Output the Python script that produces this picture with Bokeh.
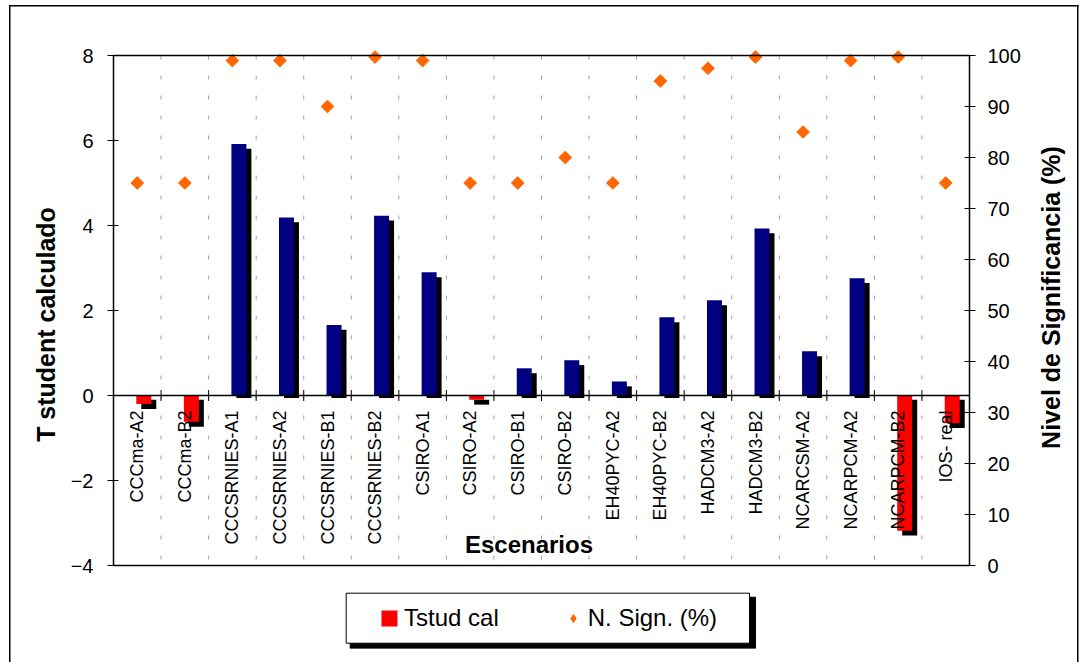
import math
from bokeh.plotting import figure
from bokeh.layouts import row
from bokeh.models import (Range1d, FactorRange, LinearAxis, SingleIntervalTicker, Span, Label,
                          BoxAnnotation, Legend, LegendItem, ColumnDataSource)
from bokeh.transform import dodge
from bokeh.embed import file_html
from bokeh.resources import INLINE
from bokeh.core.properties import value

# ---------------- data ----------------
categories = ["CCCma-A2", "CCCma-B2", "CCCSRNIES-A1", "CCCSRNIES-A2", "CCCSRNIES-B1",
              "CCCSRNIES-B2", "CSIRO-A1", "CSIRO-A2", "CSIRO-B1", "CSIRO-B2",
              "EH40PYC-A2", "EH40PYC-B2", "HADCM3-A2", "HADCM3-B2", "NCARCSM-A2",
              "NCARPCM-A2", "NCARPCM-B2", "IOS- real"]
tstud_cal = [-0.20, -0.62, 5.92, 4.19, 1.66, 4.23, 2.90, -0.10, 0.64, 0.83,
             0.33, 1.84, 2.24, 3.93, 1.04, 2.76, -3.18, -0.65]
n_sign = [75, 75, 99, 99, 90, 99.7, 99, 75, 75, 80,
          75, 95, 97.5, 99.7, 85, 99, 99.7, 75]
left_bounds = (-4, 8)
right_bounds = (0, 100)

FONT = "Liberation Sans"
NAVY = "#000080"
RED = "#FF0000"
ORANGE = "#FF6600"

# ---------------- layout (pixels) ----------------
W, H = 1032, 662          # main chart
W2 = 1083 - W             # strip holding the right axis title
PLOT_TOP, PLOT_BOTTOM = 55, 565
FRAME_TOP, FRAME_BOTTOM = 0, 648
FRAME_LEFT = 113
span_px = PLOT_BOTTOM - PLOT_TOP
lpx = span_px / (left_bounds[1] - left_bounds[0])
rpx = span_px / (right_bounds[1] - right_bounds[0])
y_range = Range1d(left_bounds[0] - (FRAME_BOTTOM - PLOT_BOTTOM) / lpx,
                  left_bounds[1] + (PLOT_TOP - FRAME_TOP) / lpx)
r_range = Range1d(right_bounds[0] - (FRAME_BOTTOM - PLOT_BOTTOM) / rpx,
                  right_bounds[1] + (PLOT_TOP - FRAME_TOP) / rpx)

colors = [NAVY if v >= 0 else RED for v in tstud_cal]
shadow_top = [v - 0.115 if v >= 0 else -0.10 for v in tstud_cal]
shadow_bot = [-0.06 if v >= 0 else v - 0.115 for v in tstud_cal]

src = ColumnDataSource(dict(cat=categories, t=tstud_cal, s=n_sign, color=colors,
                            st=shadow_top, sb=shadow_bot))
bnd = ColumnDataSource(dict(cat=categories[:-1]))

p = figure(x_range=FactorRange(factors=categories, range_padding=0),
           y_range=y_range, width=W, height=H,
           output_backend="svg", toolbar_location=None, x_axis_location=None,
           min_border_left=FRAME_LEFT, min_border_right=W - 969, min_border_top=FRAME_TOP,
           min_border_bottom=H - FRAME_BOTTOM)
p.grid.visible = False
p.outline_line_color = None
p.background_fill_color = None
p.border_fill_color = None
p.styles = {"background": (
    "linear-gradient(#000,#000) 9px 5px / 1.5px 100% no-repeat, "
    "linear-gradient(#000,#000) 9px 5px / 100% 1.5px no-repeat, #fff")}

# axes
ya = p.yaxis[0]
ya.ticker = SingleIntervalTicker(interval=2)
ya.bounds = left_bounds
p.extra_y_ranges = {"sig": r_range}
ry = LinearAxis(y_range_name="sig", ticker=SingleIntervalTicker(interval=10),
                bounds=right_bounds)
p.add_layout(ry, "right")
for ax, so in ((ya, 14), (ry, 12)):
    ax.major_label_text_font = FONT
    ax.major_label_text_font_size = "20px"
    ax.major_label_text_color = "black"
    ax.major_label_standoff = so
    ax.axis_line_color = "black"
    ax.axis_line_width = 1.5
    ax.major_tick_line_color = "black"
    ax.major_tick_in = 5
    ax.major_tick_out = 6
    ax.minor_tick_line_color = None
ya.axis_label = "T student calculado"
ya.axis_label_text_font = FONT
ya.axis_label_text_font_style = "bold"
ya.axis_label_text_font_size = "25px"
ya.axis_label_text_color = "black"
ya.axis_label_standoff = 8

# top / bottom edges of the plot area
for loc in left_bounds:
    p.add_layout(Span(location=loc, dimension="width", line_color="black", line_width=1.5))

# vertical dashed separators
p.segment(x0=dodge("cat", 0.5, range=p.x_range), y0=left_bounds[1],
          x1=dodge("cat", 0.5, range=p.x_range), y1=left_bounds[0],
          source=bnd, line_color="#A0A0A0", line_width=1, line_dash="4 16")

# bars with shadow
p.vbar(x=dodge("cat", 0.242, range=p.x_range), top="st", bottom="sb", width=0.315,
       fill_color="black", line_color=None, source=src)
bars = p.vbar(x=dodge("cat", 0.137, range=p.x_range), top="t", bottom=0, width=0.315,
              fill_color="color", line_color=None, source=src)

# zero line and category ticks
p.add_layout(Span(location=0, dimension="width", line_color="black", line_width=1.5))
p.scatter(x=dodge("cat", 0.5, range=p.x_range), y=0, marker="dash", angle=math.pi / 2,
          size=11, line_color="black", line_width=1, source=bnd)

# category labels
p.text(x="cat", y=0, text="cat", angle=math.pi / 2, text_align="right",
       text_baseline="middle", y_offset=15, text_font=value(FONT),
       text_font_size="18px", text_color="black", source=src)

# significance diamonds (a small upright diamond underneath serves as legend key)
key_dia = p.scatter(x="cat", y="s", y_range_name="sig", marker="diamond", size=6,
                    fill_color=ORANGE, line_color=ORANGE, source=src)
diam = p.scatter(x="cat", y="s", y_range_name="sig", marker="square", angle=math.pi / 4,
                 size=9, fill_color=ORANGE, line_color=ORANGE, source=src)

p.add_layout(Label(x=415.5, y=FRAME_BOTTOM - PLOT_BOTTOM + 21, x_units="screen",
                   y_units="screen", text="Escenarios", text_align="center",
                   text_baseline="middle", text_font=FONT, text_font_style="bold",
                   text_font_size="24px", text_color="black"))

# legend box with shadow
p.add_layout(BoxAnnotation(left=349.7, right=755, top=596.7, bottom=648,
                           left_units="canvas", right_units="canvas",
                           top_units="canvas", bottom_units="canvas",
                           fill_color="black", fill_alpha=1, line_color="black",
                           line_alpha=1))
p.add_layout(BoxAnnotation(left=345.7, right=749, top=592.7, bottom=642.7,
                           left_units="canvas", right_units="canvas",
                           top_units="canvas", bottom_units="canvas",
                           fill_color="white", fill_alpha=1, line_color="black",
                           line_width=1, line_alpha=1))
GLYPH = 20
legend = Legend(items=[LegendItem(label="Tstud cal", renderers=[bars], index=0),
                       LegendItem(label="N. Sign. (%)", renderers=[key_dia], index=0)],
                location=(379 - FRAME_LEFT, FRAME_BOTTOM - 604 - 28),
                orientation="horizontal", padding=0, margin=0, spacing=64,
                glyph_width=GLYPH, glyph_height=GLYPH, label_standoff=5,
                label_height=28, label_text_font=FONT, label_text_font_size="24px",
                label_text_color="black", border_line_alpha=0, background_fill_alpha=0)
p.add_layout(legend)

# strip on the right holding the right axis title (reads bottom to top)
p2 = figure(width=W2, height=H, output_backend="svg", toolbar_location=None,
            x_axis_location=None, y_axis_location=None, x_range=Range1d(0, 1),
            y_range=Range1d(0, 1), min_border=0)
p2.grid.visible = False
p2.outline_line_color = None
p2.background_fill_color = None
p2.border_fill_color = None
p2.styles = {"background": (
    "linear-gradient(#000,#000) 0 5px / 46.5px 1.5px no-repeat, "
    "linear-gradient(#000,#000) 45px 5px / 1.5px 100% no-repeat, #fff")}
p2.add_layout(Label(x=1050 - W, y=H - 311, x_units="screen", y_units="screen",
                    text="Nivel de Significancia (%)", angle=math.pi / 2,
                    text_align="center", text_baseline="middle", text_font=FONT,
                    text_font_style="bold", text_font_size="25px", text_color="black"))

layout = row(p, p2, spacing=0)
open("out.html", "w").write(file_html(layout, INLINE))
